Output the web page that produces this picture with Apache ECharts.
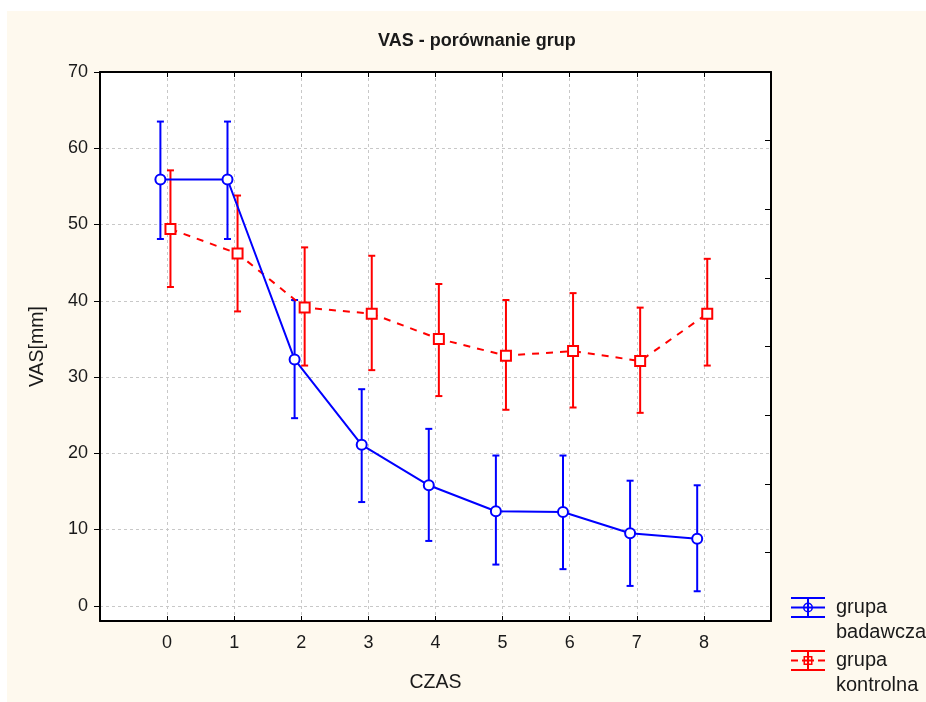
<!DOCTYPE html>
<html>
<head>
<meta charset="utf-8">
<script src="https://cdn.jsdelivr.net/npm/echarts@6/dist/echarts.min.js"></script>
<style>
html,body{margin:0;padding:0;background:#ffffff;}
#c{width:926px;height:702px;}
</style>
</head>
<body>
<div id="c"></div>
<script>
// ---- data ----
const timePoints = [0, 1, 2, 3, 4, 5, 6, 7, 8];
const yTickValues = [0, 10, 20, 30, 40, 50, 60, 70];
const seriesNames = ['grupa badawcza', 'grupa kontrolna'];
const blueMean = [55.9, 55.9, 32.3, 21.1, 15.8, 12.4, 12.3, 9.5, 8.8];
const blueLow  = [48.1, 48.1, 24.6, 13.6, 8.5, 5.4, 4.8, 2.6, 1.9];
const blueHigh = [63.5, 63.5, 40.1, 28.4, 23.2, 19.7, 19.7, 16.4, 15.8];
const redMean  = [49.4, 46.2, 39.1, 38.3, 35.0, 32.8, 33.4, 32.1, 38.3];
const redLow   = [41.8, 38.6, 31.5, 30.9, 27.5, 25.7, 26.0, 25.3, 31.5];
const redHigh  = [57.1, 53.8, 47.0, 45.9, 42.2, 40.1, 41.0, 39.1, 45.5];

// ---- styling ----
const BLUE = '#0000ff', RED = '#ff0000';
const FONT = "'Liberation Sans', Arial, sans-serif";
const TXT = '#1a1a1a';
const blueOffset = -0.1, redOffset = 0.05;

const lineData = (means, off) => timePoints.map((t, i) => [t + off, means[i]]);
const errData = (lo, hi, off) => timePoints.map((t, i) => [t + off, lo[i], hi[i]]);

function errRender(color) {
  return function (params, api) {
    const x = api.value(0), lo = api.value(1), hi = api.value(2);
    const a = api.coord([x, lo]), b = api.coord([x, hi]);
    const hw = 3.5;
    const st = { stroke: color, lineWidth: 2 };
    return {
      type: 'group',
      children: [
        { type: 'line', shape: { x1: a[0], y1: a[1], x2: b[0], y2: b[1] }, style: st },
        { type: 'line', shape: { x1: a[0] - hw, y1: a[1], x2: a[0] + hw, y2: a[1] }, style: st },
        { type: 'line', shape: { x1: b[0] - hw, y1: b[1], x2: b[0] + hw, y2: b[1] }, style: st }
      ]
    };
  };
}

const capsAndStem = 'M0 0H34V2H0Z M0 19H34V21H0Z M16 0H18V21H16Z ';
const blueIcon = 'path://' + capsAndStem +
  'M0 9.5H34V11.5H0Z ' +
  'M22 10.5A5 5 0 1 1 12 10.5A5 5 0 1 1 22 10.5Z ' +
  'M20.5 10.5A3.5 3.5 0 1 0 13.5 10.5A3.5 3.5 0 1 0 20.5 10.5Z';
const redIcon = 'path://' + capsAndStem +
  'M0 9.5H7V11.5H0Z M27 9.5H34V11.5H27Z M11 9.5H23V11.5H11Z ' +
  'M12.5 6H21.5V15H12.5Z M14 7.5V13.5H20V7.5Z';

const legendText = {
  fontSize: 20, lineHeight: 25, color: TXT, fontFamily: FONT,
  padding: [0, 0, 0, 6]
};
// first line of the label sits level with the icon, the second below it
const legendFormatter = n => '\n' + n.replace(' ', '\n');

const chart = echarts.init(document.getElementById('c'), null, { renderer: 'canvas' });
chart.setOption({
  backgroundColor: '#ffffff',
  animation: false,
  graphic: [{
    type: 'rect', z: -100, silent: true,
    shape: { x: 7, y: 11, width: 919, height: 691 },
    style: { fill: '#fef9ee' }
  }],
  title: {
    text: 'VAS - porównanie grup',
    left: 373, top: 27,
    textStyle: { fontSize: 18, fontWeight: 'bold', color: TXT, fontFamily: FONT }
  },
  grid: {
    left: 100, top: 72, width: 671, height: 549,
    show: true, backgroundColor: '#ffffff', borderWidth: 0
  },
  legend: [
    {
      left: 791, top: 570, orient: 'vertical', padding: 0,
      itemWidth: 34, itemHeight: 21, selectedMode: false,
      data: [{ name: seriesNames[0], icon: blueIcon, itemStyle: { color: BLUE, borderWidth: 0 } }],
      formatter: legendFormatter,
      textStyle: legendText
    },
    {
      left: 791, top: 623, orient: 'vertical', padding: 0,
      itemWidth: 34, itemHeight: 21, selectedMode: false,
      data: [{ name: seriesNames[1], icon: redIcon, itemStyle: { color: RED, borderWidth: 0 } }],
      formatter: legendFormatter,
      textStyle: legendText
    }
  ],
  xAxis: [
    {
      type: 'value', position: 'bottom', min: -1, max: 9, interval: 1,
      axisLine: { onZero: false, lineStyle: { color: '#000', width: 2 } },
      axisTick: { inside: true, length: 5, customValues: timePoints, lineStyle: { color: '#000', width: 1 } },
      axisLabel: { customValues: timePoints, margin: 13, fontSize: 18, color: TXT, fontFamily: FONT },
      splitLine: { show: true, lineStyle: { color: '#c8c8c8', width: 1, type: [3, 3] } },
      name: 'CZAS', nameLocation: 'middle', nameGap: 52,
      nameTextStyle: { fontSize: 19.5, color: TXT, fontFamily: FONT }
    },
    {
      type: 'value', position: 'top', min: -1, max: 9, interval: 1,
      axisLine: { onZero: false, lineStyle: { color: '#000', width: 2 } },
      axisTick: { inside: true, length: 5, customValues: timePoints, lineStyle: { color: '#000', width: 1 } },
      axisLabel: { show: false },
      splitLine: { show: false }
    }
  ],
  yAxis: [
    {
      type: 'value', position: 'left', min: -2, max: 70,
      axisLine: { show: true, onZero: false, lineStyle: { color: '#000', width: 2 } },
      axisTick: { show: true, inside: false, length: 6, customValues: yTickValues, lineStyle: { color: '#000', width: 1 } },
      axisLabel: { customValues: yTickValues, margin: 12, fontSize: 18, color: TXT, fontFamily: FONT },
      splitLine: { show: true, lineStyle: { color: '#c8c8c8', width: 1, type: [3, 3] } },
      name: 'VAS[mm]', nameLocation: 'middle', nameGap: 52, nameRotate: 90,
      nameTextStyle: { fontSize: 19.5, color: TXT, fontFamily: FONT }
    },
    {
      type: 'value', position: 'right', min: 0, max: 8, interval: 1,
      axisLine: { show: true, onZero: false, lineStyle: { color: '#000', width: 2 } },
      axisTick: { show: true, inside: true, length: 6, lineStyle: { color: '#000', width: 1 } },
      axisLabel: { show: false },
      splitLine: { show: false }
    }
  ],
  series: [
    {
      name: 'err_blue', type: 'custom', xAxisIndex: 0, yAxisIndex: 0,
      renderItem: errRender(BLUE), encode: { x: 0, y: [1, 2] },
      data: errData(blueLow, blueHigh, blueOffset), z: 2, silent: true
    },
    {
      name: 'err_red', type: 'custom', xAxisIndex: 0, yAxisIndex: 0,
      renderItem: errRender(RED), encode: { x: 0, y: [1, 2] },
      data: errData(redLow, redHigh, redOffset), z: 2, silent: true
    },
    {
      name: seriesNames[1], type: 'line', xAxisIndex: 0, yAxisIndex: 0,
      data: lineData(redMean, redOffset),
      symbol: 'emptyRect', symbolSize: 10, showAllSymbol: true,
      lineStyle: { color: RED, width: 2, type: [7, 7] },
      itemStyle: { color: RED, borderWidth: 2 },
      z: 3
    },
    {
      name: seriesNames[0], type: 'line', xAxisIndex: 0, yAxisIndex: 0,
      data: lineData(blueMean, blueOffset),
      symbol: 'emptyCircle', symbolSize: 10, showAllSymbol: true,
      lineStyle: { color: BLUE, width: 2 },
      itemStyle: { color: BLUE, borderWidth: 2 },
      z: 4
    }
  ]
});
</script>
</body>
</html>
